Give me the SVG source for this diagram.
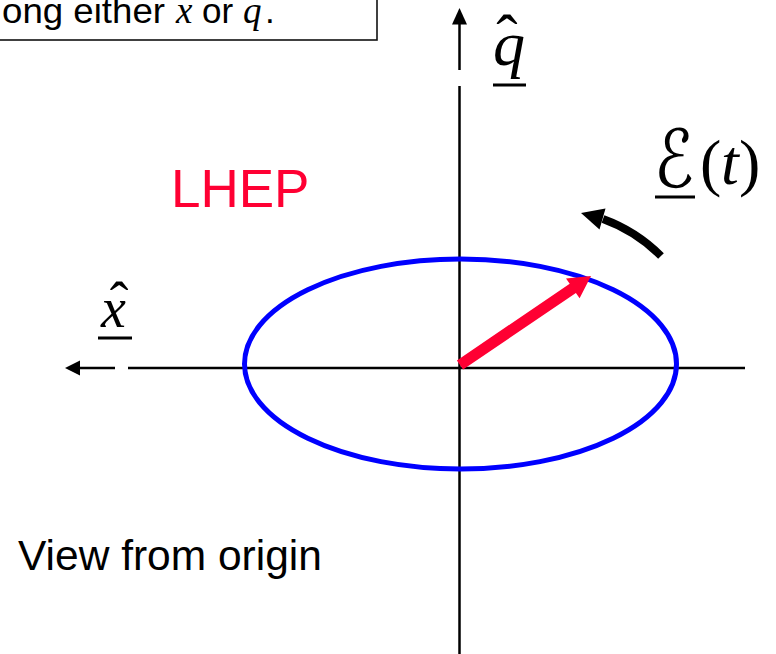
<svg xmlns="http://www.w3.org/2000/svg" width="776" height="654" viewBox="0 0 776 654">
<style>
.sans{font-family:"Liberation Sans",Arial,sans-serif;}
.serif{font-family:"Liberation Serif","Times New Roman",serif;}
.it{font-style:italic;}
.axis{stroke:#000;stroke-width:2.5;fill:none;}
.ul{stroke:#000;stroke-width:3;}
</style>
<rect width="776" height="654" fill="#fff"/>
<g id="note">
<rect x="-5" y="-5" width="382" height="45" fill="#fff" stroke="#111" stroke-width="1.6"/>
<text y="23" font-size="35" fill="#000"><tspan class="sans" x="2" textLength="163" lengthAdjust="spacingAndGlyphs">ong either</tspan><tspan class="serif it" x="176" font-size="37">x</tspan><tspan class="sans" x="202">or</tspan><tspan class="serif it" x="243" font-size="37">q</tspan><tspan class="sans" x="265">.</tspan></text>
</g>
<g id="connectors">
<g id="q-axis">
<line class="axis" x1="459.5" y1="22" x2="459.5" y2="70"/>
<line class="axis" x1="459.5" y1="86" x2="459.5" y2="654"/>
<polygon points="459.5,8 452,24.5 467,24.5" fill="#000"/>
</g>
<g id="x-axis">
<line class="axis" x1="128" y1="368" x2="745" y2="368"/>
<line class="axis" x1="78" y1="368" x2="115" y2="368"/>
<polygon points="65,368 80,360.5 80,375.5" fill="#000"/>
</g>
<g id="rotation-arrow">
<path d="M661,256 Q636,231 603,219" fill="none" stroke="#000" stroke-width="8"/>
<polygon points="581,213 605.5,208.4 599.5,229.6" fill="#000"/>
</g>
</g>
<g id="ellipse">
<ellipse cx="460.5" cy="364" rx="216" ry="105" fill="none" stroke="#0000FF" stroke-width="5"/>
</g>
<g id="field-vector">
<polygon points="456.9,360.4 569.7,283.8 566,278.5 591,276 579.6,298.3 575.9,293 463.1,369.6" fill="#FF0033"/>
</g>
<g id="label-q">
<text class="serif it" x="493" y="65" font-size="64">q</text>
<text class="serif" x="507" y="59" font-size="64" text-anchor="middle">ˆ</text>
<line class="ul" x1="493" y1="85" x2="526" y2="85"/>
</g>
<g id="label-x">
<text class="serif it" x="101" y="327" font-size="56">x</text>
<text class="serif" x="119" y="321" font-size="56" text-anchor="middle">ˆ</text>
<line class="ul" x1="98" y1="338" x2="132" y2="338"/>
</g>
<g id="label-E">
<text x="654" y="187" font-size="80" font-style="italic" style="font-family:'DejaVu Serif','DejaVu Sans',serif" textLength="40" lengthAdjust="spacingAndGlyphs">ℰ</text>
<line class="ul" x1="655" y1="197" x2="695" y2="197"/>
<text y="184" font-size="64"><tspan class="serif" x="700">(</tspan><tspan class="serif it" x="721">t</tspan><tspan class="serif" x="739">)</tspan></text>
</g>
<g id="label-LHEP">
<text class="sans" x="171" y="207" font-size="53" fill="#FF0033">LHEP</text>
</g>
<g id="label-view">
<text class="sans" x="18" y="570" font-size="42.5" fill="#000">View from origin</text>
</g>
</svg>
